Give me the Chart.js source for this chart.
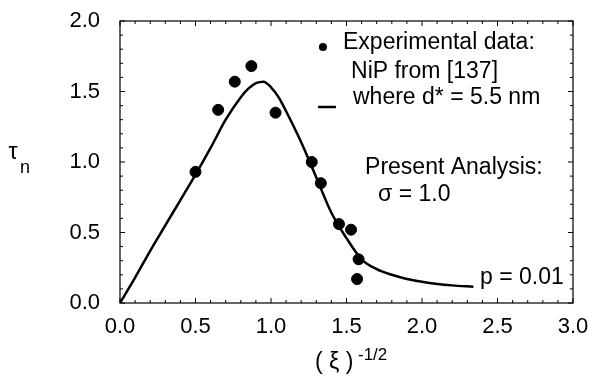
<!DOCTYPE html>
<html>
<head>
<meta charset="utf-8">
<script src="https://cdn.jsdelivr.net/npm/chart.js@4.4.1/dist/chart.umd.min.js"></script>
<style>
  html, body { margin: 0; padding: 0; background: #fff; }
  #wrap { width: 589px; height: 379px; }
</style>
</head>
<body>
<div id="wrap"><canvas id="chart" width="589" height="379"></canvas></div>
<script>
// Experimental data (NiP from [137])
const expX = [0.50, 0.65, 0.76, 0.87, 1.03, 1.27, 1.33, 1.45, 1.53, 1.58, 1.57];
const expY = [0.93, 1.37, 1.57, 1.68, 1.35, 1.00, 0.85, 0.56, 0.52, 0.31, 0.17];

// Present analysis curve (sigma = 1.0, p = 0.01)
const fitX = [0, 0.1, 0.2, 0.3, 0.4, 0.5, 0.6, 0.7, 0.8, 0.85, 0.9, 0.95, 1.0, 1.05, 1.1, 1.2, 1.3, 1.4, 1.5, 1.6, 1.7, 1.8, 1.9, 2.0, 2.1, 2.2, 2.34];
const fitY = [0, 0.18, 0.37, 0.55, 0.73, 0.91, 1.10, 1.30, 1.46, 1.52, 1.56, 1.57, 1.53, 1.46, 1.36, 1.14, 0.89, 0.64, 0.46, 0.31, 0.24, 0.20, 0.17, 0.15, 0.135, 0.125, 0.115];

const xTicks = [0, 0.5, 1.0, 1.5, 2.0, 2.5, 3.0];
const yTicks = [0, 0.5, 1.0, 1.5, 2.0];

// text notes in data coordinates
const notes = [
    { text: 'Experimental data:', x: 1.477, y: 1.844 },
    { text: 'NiP from [137]', x: 1.53, y: 1.638 },
    { text: 'where d* = 5.5 nm', x: 1.543, y: 1.454 },
    { text: 'Present Analysis:', x: 1.623, y: 0.957 },
    { text: 'σ = 1.0', x: 1.709, y: 0.766 },
    { text: 'p = 0.01', x: 2.384, y: 0.177 }
];

const FONT = '"Liberation Sans", Arial, sans-serif';

function toPoints(xs, ys) {
    return xs.map((x, i) => ({ x: x, y: ys[i] }));
}

// frame with inward ticks on all four sides, plus notes and axis titles
const framePlugin = {
    id: 'frame',
    afterDraw(chart) {
        const ctx = chart.ctx;
        const a = chart.chartArea;
        const xs = chart.scales.x;
        const ys = chart.scales.y;
        ctx.save();
        ctx.strokeStyle = '#000';
        ctx.lineWidth = 1.2;
        ctx.strokeRect(a.left, a.top, a.right - a.left, a.bottom - a.top);

        ctx.lineWidth = 1;
        for (let i = 0; i <= 30; i++) {
            const v = i / 10;
            const len = (i % 5 === 0) ? 5 : 3;
            const px = xs.getPixelForValue(v);
            ctx.beginPath();
            ctx.moveTo(px, a.bottom); ctx.lineTo(px, a.bottom - len);
            ctx.moveTo(px, a.top); ctx.lineTo(px, a.top + len);
            ctx.stroke();
        }
        for (let i = 0; i <= 20; i++) {
            const v = i / 10;
            const len = (i % 5 === 0) ? 5 : 3;
            const py = ys.getPixelForValue(v);
            ctx.beginPath();
            ctx.moveTo(a.left, py); ctx.lineTo(a.left + len, py);
            ctx.moveTo(a.right, py); ctx.lineTo(a.right - len, py);
            ctx.stroke();
        }

        // notes
        ctx.fillStyle = '#000';
        ctx.font = '23px ' + FONT;
        ctx.textAlign = 'left';
        ctx.textBaseline = 'middle';
        notes.forEach(n => {
            ctx.fillText(n.text, xs.getPixelForValue(n.x), ys.getPixelForValue(n.y));
        });

        // legend marks
        ctx.beginPath();
        ctx.arc(xs.getPixelForValue(1.344), ys.getPixelForValue(1.816), 4, 0, Math.PI * 2);
        ctx.fill();
        ctx.lineWidth = 2.5;
        ctx.beginPath();
        ctx.moveTo(xs.getPixelForValue(1.311), ys.getPixelForValue(1.39));
        ctx.lineTo(xs.getPixelForValue(1.430), ys.getPixelForValue(1.39));
        ctx.stroke();

        // y title: tau with subscript n
        ctx.font = '23px ' + FONT;
        ctx.textAlign = 'center';
        ctx.fillText('τ', a.left - 107, 153);
        ctx.font = '18px ' + FONT;
        ctx.fillText('n', a.left - 95, 168);

        // x title: ( xi ) ^ -1/2
        ctx.font = '23px ' + FONT;
        ctx.textAlign = 'left';
        ctx.fillText('( ξ )', 315, 363);
        ctx.font = '17px ' + FONT;
        ctx.fillText('-1/2', 358, 355);
        ctx.restore();
    }
};

new Chart(document.getElementById('chart'), {
    type: 'scatter',
    data: {
        datasets: [
            {
                label: 'Present Analysis',
                data: toPoints(fitX, fitY),
                showLine: true,
                borderColor: '#000',
                borderWidth: 2.5,
                pointRadius: 0,
                cubicInterpolationMode: 'monotone',
                fill: false
            },
            {
                label: 'Experimental data',
                data: toPoints(expX, expY),
                backgroundColor: '#000',
                borderColor: '#000',
                pointRadius: 5.5,
                pointHoverRadius: 5.5
            }
        ]
    },
    options: {
        responsive: false,
        animation: false,
        layout: { padding: { left: 0, top: 21, right: 16, bottom: 0 } },
        plugins: {
            legend: { display: false },
            tooltip: { enabled: false }
        },
        scales: {
            x: {
                type: 'linear',
                min: 0,
                max: 3,
                grid: { display: false, drawTicks: false },
                border: { display: false },
                afterFit(scale) {
                    scale.height = 76;
                    scale.paddingLeft = 0;
                    scale.paddingRight = 0;
                },
                afterBuildTicks(scale) { scale.ticks = xTicks.map(v => ({ value: v })); },
                ticks: {
                    color: '#000',
                    padding: 11,
                    font: { family: FONT, size: 22 },
                    callback: v => v.toFixed(1)
                }
            },
            y: {
                type: 'linear',
                min: 0,
                max: 2,
                grid: { display: false, drawTicks: false },
                border: { display: false },
                afterFit(scale) {
                    scale.width = 120;
                    scale.paddingTop = 0;
                    scale.paddingBottom = 0;
                },
                afterBuildTicks(scale) { scale.ticks = yTicks.map(v => ({ value: v })); },
                ticks: {
                    color: '#000',
                    padding: 20,
                    font: { family: FONT, size: 22 },
                    callback: v => v.toFixed(1)
                }
            }
        }
    },
    plugins: [framePlugin]
});
</script>
</body>
</html>
